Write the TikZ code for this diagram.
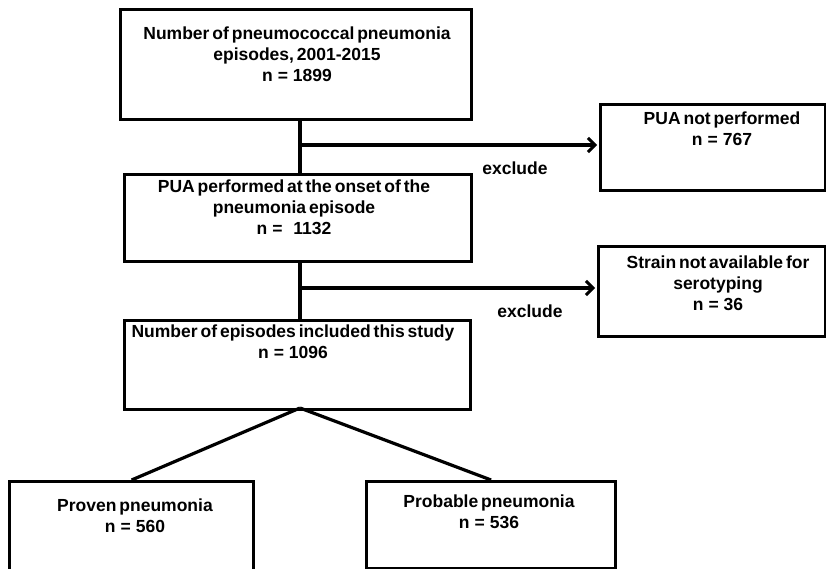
\documentclass[tikz,border=0pt]{standalone}
\usepackage{fontspec}
\setmainfont{Liberation Sans}[WordSpace=0.6]
\usetikzlibrary{arrows.meta}
\newcommand{\eqsp}{\hspace{5pt}=\hspace{5pt}}
\begin{document}
\begin{tikzpicture}[x=1pt,y=-1pt,
  box/.style={draw=black,line width=3.2pt,rectangle,inner sep=0pt,anchor=north west},
  txt/.style={align=center,font=\fontsize{17.5}{21}\selectfont\bfseries,inner sep=0pt},
  conn/.style={line width=3.2pt},
  arr/.style={line width=3.2pt,-{Straight Barb[length=7pt,width=14pt,line width=3pt]}}]
\useasboundingbox (0,0) rectangle (826,569);
% boxes
\node[box,minimum width=351,minimum height=110] (b1) at (119,8) {};
\node[box,minimum width=225,minimum height=86] (b2) at (599,103) {};
\node[box,minimum width=347,minimum height=87] (b3) at (123,173) {};
\node[box,minimum width=227,minimum height=90] (b5) at (597,245) {};
\node[box,minimum width=346,minimum height=89] (b4) at (123,319) {};
\node[box,minimum width=244,minimum height=95] (b6) at (8,480) {};
\node[box,minimum width=249,minimum height=87] (b7) at (365,480) {};
% texts
\node[txt] (t1) at (297,54) {Number of pneumococcal pneumonia\\episodes, 2001-2015\\n\eqsp1899};
\node[txt] (t2) at (722,129) {PUA not performed\\n\eqsp767};
\node[txt] (t3) at (294,207) {PUA performed at the onset of the\\pneumonia episode\\n\eqsp\ \ 1132};
\node[txt] (t5) at (718,283) {Strain not available for\\serotyping\\n\eqsp36};
\node[txt] (t4) at (293,342) {Number of episodes included this study\\n\eqsp1096};
\node[txt] (t6) at (135,516) {Proven pneumonia\\n\eqsp560};
\node[txt] (t7) at (489,512) {Probable pneumonia\\n\eqsp536};
\node[txt] (e1) at (515,168) {exclude};
\node[txt] (e2) at (530,311) {exclude};
% connectors
\coordinate (j1) at (300,145);
\coordinate (j2) at (300,288);
\coordinate (ap) at (300,408);
\draw[conn] (b1.south -| j1) -- (b3.north -| j1);
\draw[arr] (j1) -- ([xshift=-2pt]j1 -| b2.west);
\draw[conn] (b3.south -| j2) -- (b4.north -| j2);
\draw[arr] (j2) -- ([xshift=-2pt]j2 -| b5.west);
\draw[conn] (ap) -- (b6.north);
\draw[conn] (ap) -- (b7.north);
\end{tikzpicture}
\end{document}
